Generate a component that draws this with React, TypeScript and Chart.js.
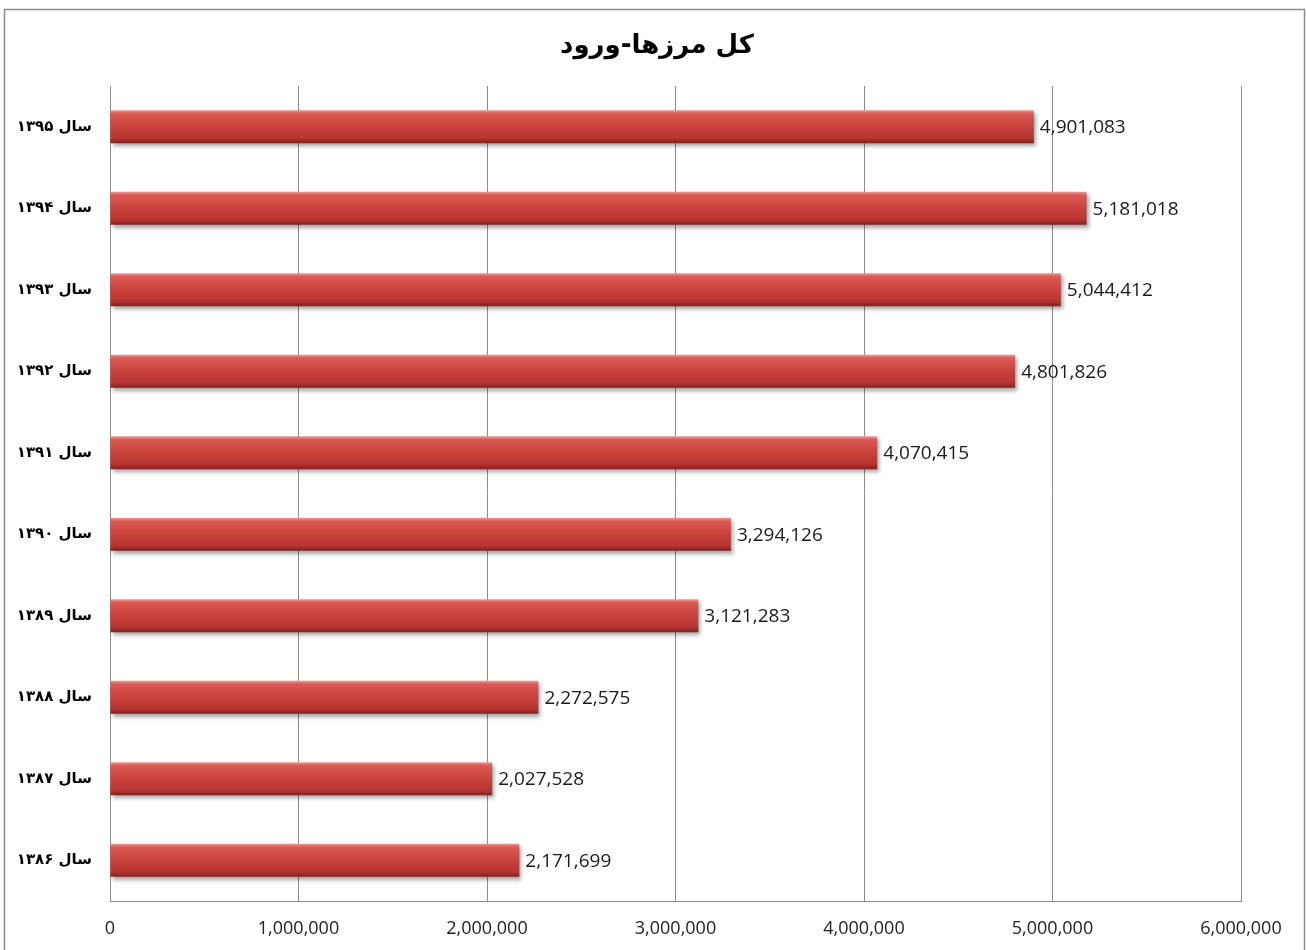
import React, { useEffect, useRef } from "react";
import { Chart, registerables } from "chart.js";

Chart.register(...registerables);

const chartTitle = "کل مرزها-ورود";
const categories = [
  "سال ۱۳۹۵",
  "سال ۱۳۹۴",
  "سال ۱۳۹۳",
  "سال ۱۳۹۲",
  "سال ۱۳۹۱",
  "سال ۱۳۹۰",
  "سال ۱۳۸۹",
  "سال ۱۳۸۸",
  "سال ۱۳۸۷",
  "سال ۱۳۸۶",
];
const arrivals = [
  4901083, 5181018, 5044412, 4801826, 4070415, 3294126, 3121283, 2272575, 2027528, 2171699,
];
const xMin = 0;
const xMax = 6000000;
const xStep = 1000000;

const CAT_PCT = 0.9;
const BAR_PCT = 0.45;

const fmt = (v: number) => v.toLocaleString("en-US");

export default function App() {
  const ref = useRef<HTMLCanvasElement | null>(null);

  useEffect(() => {
    const canvas = ref.current;
    if (!canvas) return;

    const framePlugin = {
      id: "frame",
      beforeDraw(chart: any) {
        const c = chart.ctx;
        c.save();
        c.fillStyle = "#ffffff";
        c.fillRect(0, 0, chart.width, chart.height);
        c.strokeStyle = "#8a8a8a";
        c.lineWidth = 1.5;
        c.strokeRect(4.5, 9.5, chart.width - 6, chart.height + 20);
        c.fillStyle = "#000000";
        c.font = "bold 26px 'DejaVu Sans', sans-serif";
        c.textAlign = "center";
        c.textBaseline = "middle";
        c.fillText(chartTitle, 657, 46);
        c.restore();
      },
    };

    const shadowPlugin = {
      id: "barShadow",
      beforeDatasetsDraw(chart: any) {
        const c = chart.ctx;
        c.save();
        c.shadowColor = "rgba(0,0,0,0.35)";
        c.shadowBlur = 4;
        c.shadowOffsetX = 2;
        c.shadowOffsetY = 3;
      },
      afterDatasetsDraw(chart: any) {
        chart.ctx.restore();
        const c = chart.ctx;
        const meta = chart.getDatasetMeta(0);
        c.save();
        c.fillStyle = "#1a1a1a";
        c.font = "19px 'Open Sans', sans-serif";
        c.textAlign = "left";
        c.textBaseline = "middle";
        meta.data.forEach((bar: any, i: number) => {
          c.fillText(fmt(arrivals[i]), bar.x + 6, bar.y + 1);
        });
        c.restore();
      },
    };

    const chart = new Chart(canvas, {
      type: "bar",
      data: {
        labels: categories,
        datasets: [
          {
            data: arrivals,
            categoryPercentage: CAT_PCT,
            barPercentage: BAR_PCT,
            borderWidth: 0,
            backgroundColor: (ctx: any) => {
              const ch = ctx.chart;
              const ys = ch.scales && ch.scales.y;
              if (!ys || ctx.type !== "data" || !ch.chartArea) return "#c9403c";
              const center = ys.getPixelForValue(ctx.dataIndex);
              const band = (ys.bottom - ys.top) / categories.length;
              const h = band * CAT_PCT * BAR_PCT;
              const g = ch.ctx.createLinearGradient(0, center - h / 2, 0, center + h / 2);
              g.addColorStop(0, "#ef9a94");
              g.addColorStop(0.1, "#dc5a55");
              g.addColorStop(0.45, "#cc4440");
              g.addColorStop(0.85, "#b63431");
              g.addColorStop(1, "#7f201e");
              return g;
            },
          },
        ],
      },
      options: {
        indexAxis: "y",
        responsive: false,
        animation: false,
        devicePixelRatio: 1,
        layout: { padding: { left: 0, right: 65, top: 86, bottom: 0 } },
        plugins: {
          legend: { display: false },
          title: { display: false },
          tooltip: { enabled: false },
        },
        scales: {
          x: {
            min: xMin,
            max: xMax,
            ticks: {
              stepSize: xStep,
              padding: 17,
              color: "#222222",
              font: { family: "'Open Sans', sans-serif", size: 18 },
              callback: (v: any) => fmt(Number(v)),
              maxRotation: 0,
            },
            grid: { color: "#8c8c8c", lineWidth: 1, drawTicks: false },
            border: { display: true, color: "#8c8c8c", width: 1 },
            afterFit: (s: any) => {
              s.height = 49;
            },
          },
          y: {
            ticks: {
              padding: 18,
              color: "#000000",
              font: { family: "'DejaVu Sans', sans-serif", size: 15, weight: "bold" },
            },
            grid: { display: false, drawTicks: false },
            border: { display: true, color: "#8c8c8c", width: 1 },
            afterFit: (s: any) => {
              s.width = 110;
            },
          },
        },
      } as any,
      plugins: [framePlugin, shadowPlugin],
    });

    return () => chart.destroy();
  }, []);

  return (
    <div style={{ position: "fixed", left: 0, top: 0, width: 1306, height: 950, background: "#fff" }}>
      <canvas ref={ref} width={1306} height={950} style={{ display: "block" }} />
    </div>
  );
}
